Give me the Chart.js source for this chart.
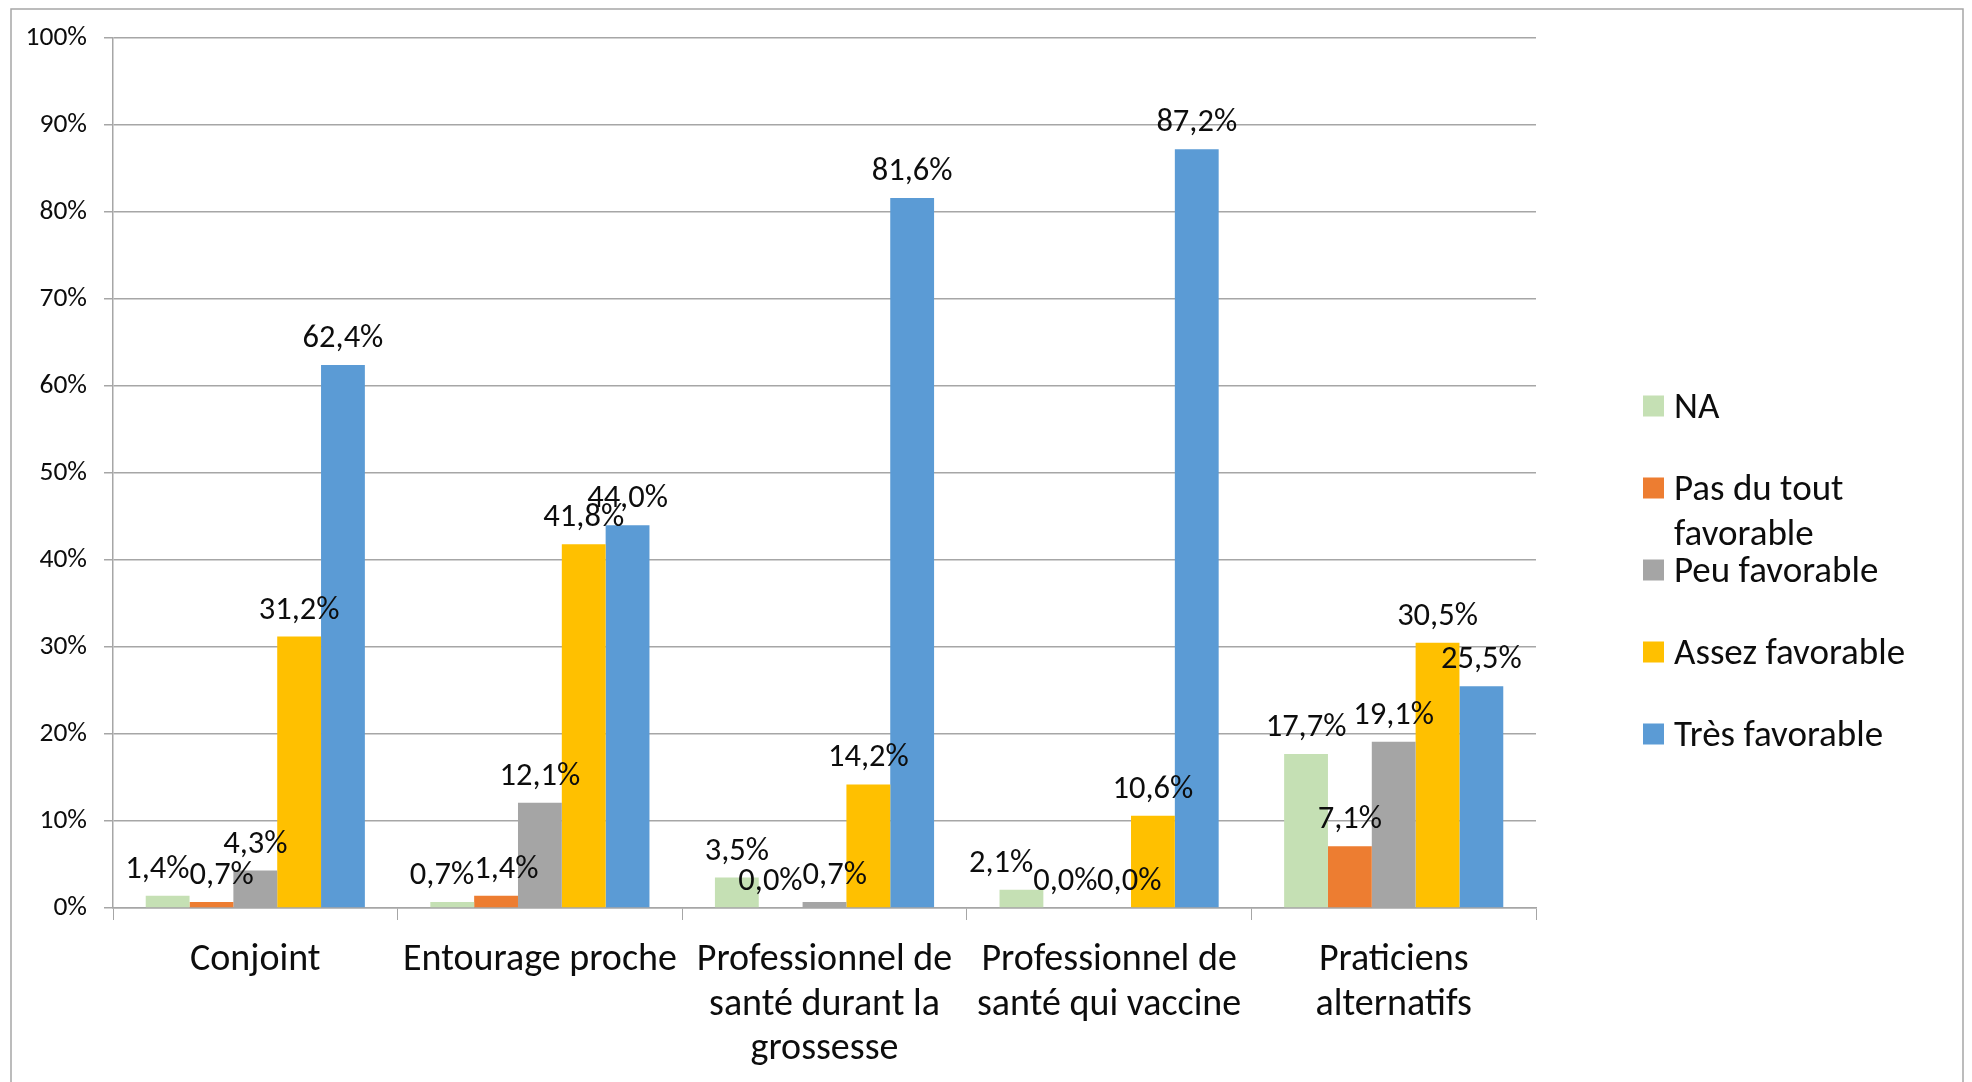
<!DOCTYPE html>
<html><head><meta charset="utf-8">
<script src="https://cdn.jsdelivr.net/npm/chart.js@4.4.0/dist/chart.umd.min.js"></script>
<style>html,body{margin:0;padding:0;background:#fff;overflow:hidden}#wrap{position:relative;width:1972px;height:1082px}</style>
</head><body><div id="wrap"><canvas id="c" width="1972" height="1082"></canvas></div>
<script>
const categories = ["Conjoint", "Entourage proche", ["Professionnel de","santé durant la","grossesse"], ["Professionnel de","santé qui vaccine"], ["Praticiens","alternatifs"]];
const seriesNames = ["NA", "Pas du tout favorable", "Peu favorable", "Assez favorable", "Très favorable"];
const naValues = [1.4, 0.7, 3.5, 2.1, 17.7];
const pasDuToutValues = [0.7, 1.4, 0.0, 0.0, 7.1];
const peuValues = [4.3, 12.1, 0.7, 0.0, 19.1];
const assezValues = [31.2, 41.8, 14.2, 10.6, 30.5];
const tresValues = [62.4, 44.0, 81.6, 87.2, 25.5];
const seriesColors = ["#C5E0B4", "#ED7D31", "#A5A5A5", "#FFC000", "#5B9BD5"];
const yMin = 0, yMax = 100, yStep = 10;

const FONT = "Carlito, Calibri, Lato, sans-serif";
const GRID = "#A6A6A6";
const fmt = v => v.toFixed(1).replace(".", ",") + "%";

const allSeries = [naValues, pasDuToutValues, peuValues, assezValues, tresValues];

const frame = {
  id: "frame",
  beforeDraw(chart) {
    const ctx = chart.ctx;
    ctx.save();
    ctx.fillStyle = "#fff";
    ctx.fillRect(0, 0, chart.width, chart.height);
    ctx.strokeStyle = GRID;
    ctx.lineWidth = 1.5;
    ctx.strokeRect(11, 9, 1952, 1100);
    ctx.restore();
  }
};

// value labels above bars, with a light horizontal de-overlap for labels on the same row
const valueLabels = {
  id: "valueLabels",
  afterDatasetsDraw(chart) {
    const ctx = chart.ctx;
    ctx.save();
    ctx.font = "32.5px " + FONT;
    ctx.fillStyle = "#0d0d0d";
    ctx.textAlign = "center";
    ctx.textBaseline = "alphabetic";
    const rowTol = 18.7;
    const n = chart.data.labels.length;
    for (let j = 0; j < n; j++) {
      const items = chart.data.datasets.map((ds, i) => {
        const bar = chart.getDatasetMeta(i).data[j];
        const t = fmt(ds.data[j]);
        return { t, x: bar.x, y: bar.y - 18, w: ctx.measureText(t).width };
      });
      for (let it = 0; it < 20; it++) {
        for (let a = 0; a < items.length - 1; a++) {
          const p = items[a], q = items[a + 1];
          if (Math.abs(p.y - q.y) >= rowTol) continue;
          const ov = (p.w + q.w) / 2 - (q.x - p.x);
          if (ov > 0.5) { p.x -= ov / 2; q.x += ov / 2; }
        }
      }
      items.forEach(o => ctx.fillText(o.t, o.x, o.y));
    }
    ctx.restore();
  }
};

function wrap(ctx, text, maxW) {
  const words = text.split(" ");
  const lines = [];
  let cur = "";
  words.forEach(w => {
    const t = cur ? cur + " " + w : w;
    if (ctx.measureText(t).width > maxW && cur) { lines.push(cur); cur = w; }
    else cur = t;
  });
  if (cur) lines.push(cur);
  return lines;
}

const sideLegend = {
  id: "sideLegend",
  afterDraw(chart) {
    const ctx = chart.ctx;
    ctx.save();
    ctx.font = "37px " + FONT;
    ctx.textAlign = "left";
    ctx.textBaseline = "alphabetic";
    const boxX = 1643, box = 21, textX = 1674, y0 = 406, step = 82, lh = 45;
    chart.data.datasets.forEach((ds, i) => {
      const cy = y0 + i * step;
      ctx.fillStyle = ds.backgroundColor;
      ctx.fillRect(boxX, cy - box / 2, box, box);
      ctx.fillStyle = "#0d0d0d";
      const lines = wrap(ctx, ds.label, 275);
      lines.forEach((ln, k) => ctx.fillText(ln, textX, cy + 12 + k * lh));
    });
    ctx.restore();
  }
};

new Chart(document.getElementById("c"), {
  type: "bar",
  data: {
    labels: categories,
    datasets: seriesNames.map((n, i) => ({
      label: n,
      data: allSeries[i],
      backgroundColor: seriesColors[i],
      borderWidth: 0,
      categoryPercentage: 0.77,
      barPercentage: 1
    }))
  },
  options: {
    responsive: false,
    animation: false,
    devicePixelRatio: 1,
    layout: { padding: { top: 38, right: 436, bottom: 0, left: 0 } },
    plugins: { legend: { display: false }, tooltip: { enabled: false } },
    scales: {
      x: {
        afterFit: s => { s.height = 174; },
        grid: { display: true, drawOnChartArea: false, drawTicks: true, tickLength: 12, color: GRID, offset: true },
        border: { display: true, color: GRID, width: 1.5 },
        ticks: { font: { family: FONT, size: 38, lineHeight: 1.176 }, color: "#0d0d0d", padding: 18, maxRotation: 0, autoSkip: false }
      },
      y: {
        min: yMin, max: yMax,
        afterFit: s => { s.width = 113; },
        grid: { color: GRID, lineWidth: 1.5, tickLength: 9 },
        border: { display: true, color: GRID, width: 1.5 },
        ticks: { stepSize: yStep, callback: v => v + "%", font: { family: FONT, size: 27.5 }, color: "#0d0d0d", padding: 17 }
      }
    }
  },
  plugins: [frame, valueLabels, sideLegend]
});
</script></body></html>
